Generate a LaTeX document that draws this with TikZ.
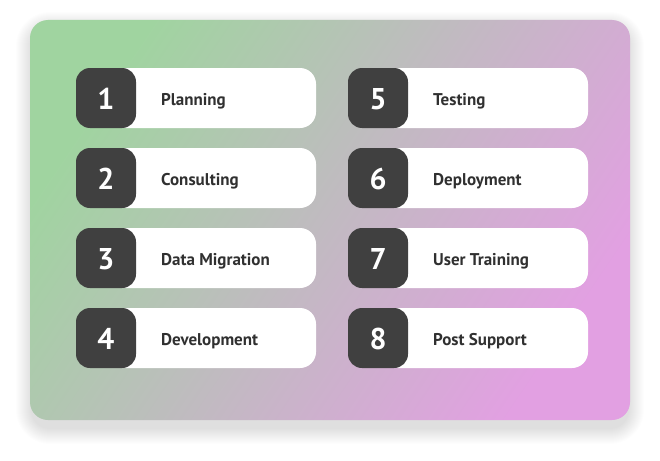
\documentclass[tikz,border=0pt]{standalone}
\usepackage{fontspec}
\setmainfont{PT Sans}
\definecolor{gA}{RGB}{160,212,160}
\definecolor{gM}{RGB}{192,190,192}
\definecolor{gB}{RGB}{226,160,226}
\definecolor{darkbox}{RGB}{64,64,64}
\definecolor{labeltext}{RGB}{48,48,48}
\tikzset{
  card/.style={rounded corners=18pt, top color=gA, middle color=gM, bottom color=gB, shading angle=56},
  shadowring/.style={fill=black, fill opacity=0.006, draw=none},
  pill/.style={fill=white, rounded corners=16pt, draw=none},
  numbox/.style={fill=darkbox, rounded corners=14pt, minimum width=60pt, minimum height=60pt, inner sep=0pt},
  numtext/.style={anchor=base, text=white, inner sep=0pt, font=\bfseries\fontsize{30}{30}\selectfont},
  lbl/.style={anchor=base west, text=labeltext, font=\bfseries\fontsize{17}{17}\selectfont, inner sep=0pt}
}
\begin{document}
\begin{tikzpicture}[x=1pt,y=-1pt]
\useasboundingbox (0,0) rectangle (660,460);
\fill[white] (0,0) rectangle (660,460);
\foreach \k in {1,...,16}{
  \fill[shadowring, rounded corners=18pt+\k pt] (32-\k,28-\k) rectangle (628+\k,428+\k);
}
\shade[card] (30,20) rectangle (630,420);
\foreach \n/\t [count=\i from 0] in {1/Planning,2/Consulting,3/Data Migration,4/Development}{
  \fill[pill] (110,68+80*\i) rectangle (316,128+80*\i);
  \node[numbox] (n\n) at (106,98+80*\i) {};
  \node[numtext] (d\n) at (106,109+80*\i) {\n};
  \node[lbl] (t\n) at (161,105+80*\i) {\t};
}
\foreach \n/\t [count=\i from 0] in {5/Testing,6/Deployment,7/User Training,8/Post Support}{
  \fill[pill] (382,68+80*\i) rectangle (588,128+80*\i);
  \node[numbox] (n\n) at (378,98+80*\i) {};
  \node[numtext] (d\n) at (378,109+80*\i) {\n};
  \node[lbl] (t\n) at (433,105+80*\i) {\t};
}
\end{tikzpicture}
\end{document}
